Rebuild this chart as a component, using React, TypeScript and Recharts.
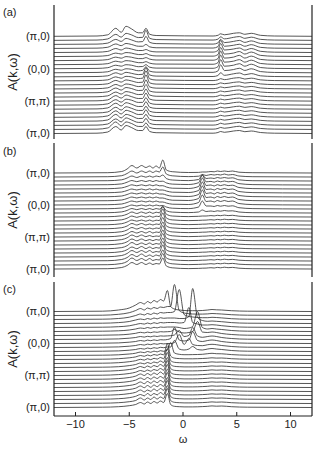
import { LineChart, Line, XAxis, YAxis, Label } from "recharts";

const FONT = '"Liberation Sans", Arial, Helvetica, sans-serif';
const INK = "#2b2b2b";

// ω grid for each panel (vertices of every curve)
const omegaA = [-12, -8, -7, -6.25, -5.75, -5.3, -4.8, -4.15, -3.75, -3.45, -3.1, -2.5, 2.8, 3.25, 3.5, 3.85, 4.7, 5.25, 5.75, 6.35, 7.2, 8.5, 12];
const omegaB = [-12, -7, -5.7, -5.2, -4.75, -4.3, -3.85, -3.45, -3.1, -2.8, -2.5, -2.2, -1.88, -1.55, -1, 0.5, 1.45, 1.8, 2.15, 2.6, 2.9, 3.2, 3.5, 3.85, 4.2, 4.6, 5.2, 6.5, 12];
const omegaC = [-12, -7.5, -6, -5, -4.4, -3.95, -3.6, -3.3, -3.0, -2.7, -2.4, -2.1, -1.8, -1.45, -1.15, -0.8, -0.35, 0.1, 0.55, 0.9, 1.35, 1.8, 2.3, 2.7, 3.1, 3.6, 4.5, 6, 12];

// A(k,ω) per k point, bottom (π,0) first, top (π,0) last
const spectraA = [
  [0, .3, 1.5, 7, 3.5, 8, 6, 3, 3, 7, 2, .8, .3, 1, 2, 1.2, 2.5, 3, 1.8, 2.5, 1, .3, 0],
  [0, .3, 1.5, 7.5, 3.5, 7.5, 6, 3, 3, 6.5, 2, .8, .3, 1, 2, 1.2, 2.5, 3.2, 1.8, 2.6, 1, .3, 0],
  [0, .3, 1.4, 6.5, 3.5, 7.5, 5.5, 3, 3, 7, 2, .8, .3, 1, 2.2, 1.2, 2.4, 3, 1.8, 2.5, 1, .3, 0],
  [0, .3, 1.4, 7, 3.4, 7, 5.5, 2.8, 3, 7, 2, .8, .3, 1, 2, 1.2, 2.6, 3.1, 1.8, 2.4, 1, .3, 0],
  [0, .3, 1.4, 6.5, 3.3, 7, 5.5, 2.8, 3, 7.5, 2, .8, .3, 1, 2, 1.2, 2.5, 3, 1.8, 2.5, 1, .3, 0],
  [0, .3, 1.3, 6, 3.2, 6.5, 5, 2.8, 2.8, 7, 2, .8, .3, 1, 2.1, 1.2, 2.5, 3, 1.8, 2.5, 1, .3, 0],
  [0, .3, 1.3, 6, 3.2, 6.5, 5, 2.7, 2.8, 7.5, 2, .8, .3, 1, 2, 1.2, 2.4, 3, 1.8, 2.6, 1, .3, 0],
  [0, .3, 1.3, 5.5, 3, 6, 5, 2.7, 2.8, 7.5, 2, .8, .3, 1, 2, 1.2, 2.5, 3, 1.8, 2.5, 1, .3, 0],
  [0, .3, 1.2, 5.5, 3, 6, 4.5, 2.6, 2.7, 8, 2, .8, .3, 1, 2, 1.2, 2.5, 3, 1.8, 2.5, 1, .3, 0],
  [0, .3, 1.2, 5, 3, 5.5, 4.5, 2.5, 2.7, 8, 2, .8, .3, 1, 2, 1.2, 2.5, 3, 1.8, 2.5, 1, .3, 0],
  [0, .3, 1.2, 5, 2.9, 5.5, 4.5, 2.5, 2.7, 8.5, 2, .8, .3, 1, 2, 1.2, 2.5, 3, 1.8, 2.5, 1, .3, 0],
  [0, .3, 1.1, 4.5, 2.8, 5, 4.2, 2.4, 2.7, 9, 2, .8, .3, 1, 2, 1.2, 2.5, 3, 1.8, 2.5, 1, .3, 0],
  [0, .3, 1.1, 4.5, 2.8, 5, 4, 2.4, 2.7, 10, 2, .8, .3, 1, 2, 1.2, 2.5, 3, 1.8, 2.5, 1, .3, 0],
  [0, .3, 1, 4, 2.6, 4.5, 4, 2.3, 2.7, 10, 2, .8, .3, 1, 2.2, 1.2, 2.7, 3.2, 1.8, 2.7, 1, .3, 0],
  [0, .3, 1, 4, 2.5, 4.5, 3.5, 2.2, 2.5, 9, 1.8, .7, .3, 1.3, 4, 1.5, 3, 3.8, 2, 3.2, 1, .3, 0],
  [0, .3, 1, 3.5, 2.5, 4, 3.5, 2, 2.4, 6, 1.6, .6, .4, 1.8, 8, 2.2, 3.2, 4.5, 2.3, 4, 1.2, .3, 0],
  [0, .3, 1, 3.5, 2.5, 4, 3.5, 2, 2.2, 4, 1.5, .6, .4, 2, 9, 2.5, 3.5, 5, 2.5, 4.5, 1.2, .3, 0],
  [0, .3, 1, 3.5, 2.5, 4, 3.5, 2, 2, 3, 1.5, .6, .4, 2, 9.5, 2.5, 3.5, 5, 2.5, 4.5, 1.2, .3, 0],
  [0, .3, 1, 3.5, 2.4, 4, 3.4, 2, 2, 3, 1.5, .6, .4, 2, 9.5, 2.5, 3.5, 5.2, 2.5, 4.5, 1.2, .3, 0],
  [0, .3, 1, 3.5, 2.5, 4, 3.5, 2, 2, 3, 1.5, .6, .4, 2, 9, 2.5, 3.5, 5, 2.5, 4.5, 1.2, .3, 0],
  [0, .3, 1.1, 4, 2.5, 4.5, 3.5, 2, 2, 3, 1.5, .6, .4, 2, 9, 2.5, 3.5, 4.5, 2.3, 4, 1.2, .3, 0],
  [0, .3, 1.2, 4.5, 2.8, 5, 4, 2.2, 2.2, 4, 1.6, .7, .4, 1.8, 8, 2.2, 3.2, 4.2, 2.2, 3.8, 1.1, .3, 0],
  [0, .3, 1.3, 5, 3, 6, 4.5, 2.5, 2.8, 8, 2, .8, .3, 1.5, 5, 1.8, 3, 4, 2, 3.5, 1, .3, 0],
  [0, .3, 1.4, 6, 3.2, 7, 5.5, 2.8, 3, 10, 2, .8, .3, 1.2, 3.5, 1.5, 3, 3.8, 2, 3.2, 1, .3, 0],
  [0, .3, 1.5, 8, 4, 10, 7.5, 3.5, 3.5, 8, 2, .8, .3, 1, 2.5, 1.5, 3, 3.5, 2, 3, 1, .3, 0],
];

const spectraB = [
  [0, .3, 1.5, 3.5, 6.5, 4.5, 6.5, 4.5, 6, 4.5, 5.5, 5, 11, 3, 1.2, .4, .6, .8, .9, 1.3, 1, 1.6, 1.2, 1.8, 1.3, 1.6, .8, .3, 0],
  [0, .3, 1.5, 3.5, 7, 4.5, 6.5, 4.5, 6.5, 4.5, 5.5, 5, 11.5, 3, 1.2, .4, .6, .8, .9, 1.3, 1, 1.6, 1.2, 1.8, 1.3, 1.6, .8, .3, 0],
  [0, .3, 1.5, 3.4, 6.5, 4.4, 7, 4.5, 6, 4.5, 6, 5, 11, 3, 1.2, .4, .6, .8, .9, 1.3, 1, 1.6, 1.2, 1.8, 1.3, 1.6, .8, .3, 0],
  [0, .3, 1.5, 3.5, 6.5, 4.5, 6.5, 4.6, 6.5, 4.5, 5.5, 5, 12, 3, 1.2, .4, .6, .8, .9, 1.3, 1, 1.6, 1.2, 1.8, 1.3, 1.6, .8, .3, 0],
  [0, .3, 1.4, 3.3, 6, 4.3, 6.5, 4.4, 6, 4.4, 5.5, 4.8, 11.5, 3, 1.2, .4, .6, .8, .9, 1.3, 1, 1.6, 1.2, 1.8, 1.3, 1.6, .8, .3, 0],
  [0, .3, 1.4, 3.3, 6.5, 4.3, 6, 4.4, 6, 4.4, 5.5, 4.8, 11, 3, 1.2, .4, .6, .8, .9, 1.3, 1, 1.6, 1.2, 1.8, 1.3, 1.6, .8, .3, 0],
  [0, .3, 1.4, 3.2, 6, 4.2, 6, 4.3, 5.5, 4.3, 5.5, 4.8, 11.5, 3, 1.2, .4, .6, .8, .9, 1.3, 1, 1.6, 1.2, 1.8, 1.3, 1.6, .8, .3, 0],
  [0, .3, 1.4, 3.2, 6, 4.2, 6, 4.3, 5.5, 4.3, 5, 4.6, 11, 3, 1.2, .4, .6, .8, .9, 1.3, 1, 1.6, 1.2, 1.8, 1.3, 1.6, .8, .3, 0],
  [0, .3, 1.3, 3, 5.5, 4, 5.5, 4, 5.5, 4, 5, 4.5, 11.5, 3, 1.2, .4, .6, .8, .9, 1.3, 1, 1.6, 1.2, 1.8, 1.3, 1.6, .8, .3, 0],
  [0, .3, 1.3, 3, 5.5, 4, 5.5, 4, 5, 4, 5, 4.5, 11, 3, 1.1, .4, .6, .8, .9, 1.3, 1, 1.6, 1.2, 1.8, 1.3, 1.6, .8, .3, 0],
  [0, .3, 1.3, 3, 5.5, 4, 5.5, 4, 5, 4, 5, 4.5, 11.5, 3, 1.1, .4, .6, .8, .9, 1.3, 1, 1.6, 1.2, 1.8, 1.3, 1.6, .8, .3, 0],
  [0, .3, 1.3, 3, 5, 3.8, 5, 3.8, 5, 3.8, 4.8, 4.4, 12, 3, 1.1, .4, .6, .8, .9, 1.3, 1, 1.6, 1.2, 1.8, 1.3, 1.6, .8, .3, 0],
  [0, .3, 1.2, 2.8, 5, 3.6, 5, 3.8, 5, 3.8, 4.8, 4.4, 12, 3, 1.1, .4, .6, .8, .9, 1.3, 1, 1.6, 1.2, 1.8, 1.3, 1.6, .8, .3, 0],
  [0, .3, 1.2, 2.8, 5, 3.5, 5, 3.6, 5, 3.6, 4.8, 4.2, 11, 2.8, 1, .4, .7, 1, 1, 1.4, 1.1, 1.7, 1.3, 1.9, 1.4, 1.7, .8, .3, 0],
  [0, .3, 1.1, 2.6, 4.5, 3.3, 4.5, 3.4, 4.5, 3.4, 4.5, 3.8, 6, 2.3, .9, .4, 1, 3, 1.5, 2, 1.5, 2.2, 1.8, 2.5, 2, 2.2, 1, .3, 0],
  [0, .3, 1, 2.5, 4, 3, 4, 3, 4, 3, 4, 3.2, 3.5, 2, .8, .4, 2, 8, 3, 3, 2.5, 3.5, 2.8, 3.5, 2.8, 3.2, 1.3, .4, 0],
  [0, .3, 1, 2.5, 4, 3, 4, 3, 4, 3, 4, 3, 3, 2, .8, .5, 2.5, 10, 3.5, 4, 3, 4.5, 3.5, 4.5, 3.5, 4, 1.5, .4, 0],
  [0, .3, 1, 2.5, 4, 3, 4, 3, 4, 3, 4, 3, 3, 2, .8, .5, 2.5, 11, 3.5, 4, 3, 4.5, 3.5, 4.5, 3.5, 4, 1.5, .4, 0],
  [0, .3, 1, 2.5, 4, 3, 4.2, 3, 4, 3, 4, 3, 3, 2, .8, .5, 2.5, 11, 3.5, 4.2, 3, 4.5, 3.5, 4.6, 3.5, 4, 1.5, .4, 0],
  [0, .3, 1, 2.5, 4, 3, 4, 3, 4.2, 3, 4, 3, 3, 2, .8, .5, 2.5, 11, 3.5, 4, 3, 4.5, 3.5, 4.5, 3.5, 4, 1.5, .4, 0],
  [0, .3, 1.1, 2.6, 4.2, 3.2, 4.2, 3.2, 4.2, 3.2, 4.2, 3.2, 3.3, 2, .8, .5, 2.5, 11, 3.5, 4, 3, 4.3, 3.4, 4.3, 3.4, 3.8, 1.5, .4, 0],
  [0, .3, 1.1, 2.8, 4.5, 3.3, 4.5, 3.4, 4.5, 3.4, 4.5, 3.6, 3.8, 2.1, .9, .5, 2.3, 10, 3.2, 3.6, 2.8, 4, 3.2, 4, 3.2, 3.6, 1.4, .4, 0],
  [0, .3, 1.2, 3, 5, 3.5, 5, 3.8, 5, 3.8, 5, 4.3, 6, 2.5, 1, .4, 1.5, 6, 2.5, 3, 2.5, 3.5, 2.8, 3.5, 2.8, 3.2, 1.2, .3, 0],
  [0, .3, 1.3, 3.5, 6, 4, 6, 4.5, 6, 4.5, 6, 5, 10, 3, 1.2, .4, .8, 2.5, 1.5, 2.5, 2, 2.5, 2, 3, 2, 2.5, 1, .3, 0],
  [0, .3, 1.5, 4, 7.5, 5, 7.5, 5.5, 7, 5, 7, 5, 13, 3, 1.3, .5, .6, 1, 1, 1.5, 1.2, 2, 1.5, 2, 1.5, 2, .8, .3, 0],
];

const spectraC = [
  [0, .3, .8, 1.8, 3, 5, 3.5, 5.5, 4, 6, 4.5, 6.5, 5, 14, 3, 1.2, .8, .6, .6, .6, .7, .9, 1.2, 1.6, 1.3, 1.5, .8, .3, 0],
  [0, .3, .8, 1.8, 3, 5.5, 3.5, 5.5, 4, 6.5, 4.5, 6.5, 5, 15, 3, 1.2, .8, .6, .6, .6, .7, .9, 1.2, 1.6, 1.3, 1.5, .8, .3, 0],
  [0, .3, .8, 1.8, 3.2, 5, 3.6, 6, 4, 6, 4.6, 7, 5, 14, 3, 1.2, .8, .6, .6, .6, .7, .9, 1.2, 1.6, 1.3, 1.5, .8, .3, 0],
  [0, .3, .8, 1.9, 3.2, 5.5, 3.6, 5.5, 4.2, 6.5, 4.6, 7, 5.2, 15, 3, 1.2, .8, .6, .6, .6, .7, .9, 1.2, 1.6, 1.3, 1.5, .8, .3, 0],
  [0, .3, .9, 2, 3.3, 5.5, 3.8, 6, 4.2, 6.5, 4.8, 7, 5.2, 14, 3, 1.2, .8, .6, .6, .6, .7, .9, 1.2, 1.6, 1.3, 1.5, .8, .3, 0],
  [0, .3, .9, 2, 3.3, 5.5, 3.8, 6, 4.3, 6.5, 4.8, 7, 5.3, 15, 3, 1.2, .8, .6, .6, .6, .7, .9, 1.2, 1.6, 1.3, 1.5, .8, .3, 0],
  [0, .3, .9, 2, 3.4, 5.5, 4, 6, 4.4, 6.5, 5, 7, 5.3, 14.5, 3, 1.2, .8, .6, .6, .6, .7, .9, 1.2, 1.6, 1.3, 1.5, .8, .3, 0],
  [0, .3, .9, 2, 3.4, 5.5, 4, 6, 4.4, 6.5, 5, 7.5, 5.4, 15, 3, 1.2, .8, .6, .6, .6, .7, .9, 1.2, 1.6, 1.3, 1.5, .8, .3, 0],
  [0, .3, .9, 2, 3.3, 5, 4, 5.5, 4.3, 6, 5, 7, 5.3, 15, 3, 1.2, .8, .6, .6, .6, .7, .9, 1.2, 1.6, 1.3, 1.5, .8, .3, 0],
  [0, .3, .9, 2, 3.2, 5, 3.8, 5.5, 4.2, 6, 4.8, 7, 5.2, 14, 3, 1.2, .8, .6, .6, .6, .7, .9, 1.2, 1.6, 1.3, 1.5, .8, .3, 0],
  [0, .3, .8, 1.9, 3, 4.5, 3.6, 5, 4, 5.5, 4.6, 6.5, 5, 15, 3, 1.2, .8, .6, .6, .6, .7, .9, 1.2, 1.6, 1.3, 1.5, .8, .3, 0],
  [0, .3, .8, 1.8, 2.8, 4.2, 3.4, 4.8, 3.8, 5.2, 4.4, 6, 4.8, 15, 3, 1.2, .8, .6, .6, .6, .7, .9, 1.2, 1.6, 1.3, 1.5, .8, .3, 0],
  [0, .3, .8, 1.7, 2.6, 4, 3.2, 4.5, 3.6, 5, 4.2, 5.5, 4.6, 16, 3.5, 1.4, .9, .7, .7, .7, .8, 1, 1.3, 1.7, 1.4, 1.5, .8, .3, 0],
  [0, .3, .7, 1.5, 2.3, 3.5, 2.8, 4, 3.2, 4.4, 3.6, 4.8, 4.2, 5.5, 13, 2.5, 1.2, .8, .8, .9, 1, 1.2, 1.8, 2.2, 1.8, 1.7, .9, .3, 0],
  [0, .3, .6, 1.3, 2, 3, 2.4, 3.5, 2.8, 3.8, 3.2, 4.2, 3.8, 4.5, 4.5, 11, 2.5, 1.5, 2.5, 5, 2, 1.5, 2.5, 3, 2.5, 2, 1, .3, 0],
  [0, .3, .6, 1.3, 2, 3, 2.4, 3.4, 2.8, 3.8, 3.2, 4, 3.6, 4, 4, 5, 13, 3, 9, 3, 2, 1.8, 2.8, 3.2, 2.8, 2, 1, .3, 0],
  [0, .3, .6, 1.3, 2, 3, 2.4, 3.4, 2.8, 3.6, 3, 3.8, 3.6, 4, 5, 16, 3.5, 2.5, 3.5, 12, 3, 2, 3, 3.5, 3, 2, 1, .3, 0],
  [0, .3, .6, 1.3, 2, 3, 2.4, 3.2, 2.7, 3.5, 3, 3.6, 3.4, 3.6, 3.8, 4.5, 9, 3, 4, 12, 3.5, 2.2, 3, 3.5, 3, 2, 1, .3, 0],
  [0, .3, .6, 1.3, 2.2, 3.2, 2.6, 3.4, 2.8, 3.6, 3.2, 3.8, 3.6, 3.8, 4, 6, 3.5, 2.5, 3, 4, 14, 3.5, 3, 3.5, 3, 2, 1, .3, 0],
  [0, .3, .7, 1.5, 2.5, 3.5, 3, 4, 3.2, 4.2, 3.6, 4.5, 4.2, 4.5, 4.5, 4.5, 4, 3, 3.5, 5, 20, 4, 2.5, 3, 2.5, 2, 1, .3, 0],
  [0, .3, .8, 1.7, 3, 4, 3.4, 4.5, 3.6, 4.8, 4, 5, 4.6, 5, 5, 5, 4.5, 5, 20, 5, 3.5, 2.5, 2.5, 2.8, 2.5, 1.8, .9, .3, 0],
  [0, .3, .9, 2, 3.5, 4.5, 3.8, 5, 4.2, 5.5, 4.6, 5.8, 5.2, 5.5, 5.5, 5.5, 5, 5, 7, 35, 6, 3, 2.2, 2.5, 2.2, 1.8, .9, .3, 0],
  [0, .3, 1, 2.3, 4, 5.5, 4.5, 6, 5, 6.5, 5.5, 7, 6.5, 7, 7, 8, 30, 5, 3, 2.5, 2, 1.8, 1.8, 2.2, 2, 1.6, .8, .3, 0],
  [0, .3, 1.2, 2.8, 5, 7, 5.5, 7.5, 6.5, 8, 7, 8.5, 8, 9, 9, 31, 5, 2.5, 1.8, 1.5, 1.4, 1.4, 1.6, 2, 1.8, 1.5, .8, .3, 0],
  [0, .3, 1.5, 3.5, 6.5, 9, 7.5, 10, 8.5, 11, 9.5, 12, 10.5, 21, 5, 2.5, 1.5, 1, .8, .8, .8, 1, 1.5, 2, 1.7, 1.5, .8, .3, 0],
];

const kRows = [0, 8, 16, 24];
const kLabels = ["(π,0)", "(π,π)", "(0,0)", "(π,0)"];
const omegaTicks = [-10, -5, 0, 5, 10];

// stack the curves: each k point is lifted by a constant step
function toTable(omega: number[], spectra: number[][], step: number) {
  return omega.map((w, j) => {
    const row: Record<string, number> = { w };
    spectra.forEach((s, i) => {
      row[`k${i}`] = i * step + s[j];
    });
    return row;
  });
}

type PanelProps = {
  omega: number[];
  spectra: number[][];
  step: number;
  yMin: number;
  height: number;
  marginTop: number;
  marginBottom: number;
  withTicks: boolean;
};

function Panel({ omega, spectra, step, yMin, height, marginTop, marginBottom, withTicks }: PanelProps) {
  const data = toTable(omega, spectra, step);
  const yMax = yMin + 134;
  const yTicks = kRows.map((r) => r * step);
  const frame = { stroke: "#222", strokeWidth: 1.2 };
  return (
    <LineChart width={316} height={height} data={data} margin={{ top: marginTop, right: 0, bottom: marginBottom, left: 0 }}>
      <XAxis
        xAxisId="b"
        dataKey="w"
        type="number"
        domain={[-12, 12]}
        allowDataOverflow
        ticks={omegaTicks}
        interval={0}
        height={withTicks ? 28 : 0}
        axisLine={frame}
        tickLine={withTicks ? { stroke: "#222" } : false}
        tickSize={-4}
        tickMargin={8}
        tick={withTicks ? { fontSize: 11, fill: "#222", fontFamily: FONT } : false}
        tickFormatter={(v: number) => (v < 0 ? `−${-v}` : `${v}`)}
      >
        {withTicks && (
          <Label value="ω" position="insideBottom" offset={1} style={{ fontSize: 11, fill: "#222", fontFamily: FONT }} />
        )}
      </XAxis>
      <XAxis
        xAxisId="t"
        orientation="top"
        type="number"
        domain={[-12, 12]}
        allowDataOverflow
        ticks={omegaTicks}
        interval={0}
        height={0}
        axisLine={frame}
        tickLine={withTicks ? { stroke: "#222" } : false}
        tickSize={-4}
        tickFormatter={() => ""}
      />
      <YAxis
        yAxisId="l"
        type="number"
        domain={[yMin, yMax]}
        allowDataOverflow
        ticks={yTicks}
        interval={0}
        width={54}
        axisLine={frame}
        tickLine={false}
        tickSize={0}
        tickMargin={4}
        tick={{ fontSize: 11, fill: "#222", fontFamily: FONT }}
        tickFormatter={(v: number) => {
          const i = yTicks.findIndex((t) => Math.abs(t - v) < 1e-6);
          return i >= 0 ? kLabels[i] : "";
        }}
      >
        <Label
          value="A(k,ω)"
          angle={-90}
          position="insideLeft"
          offset={12}
          textAnchor="middle"
          style={{ fontSize: 13, fill: "#222", fontFamily: FONT }}
        />
      </YAxis>
      <YAxis
        yAxisId="r"
        orientation="right"
        type="number"
        domain={[yMin, yMax]}
        allowDataOverflow
        width={4}
        axisLine={frame}
        tickLine={false}
        tick={false}
      />
      {spectra.map((_, i) => (
        <Line
          key={i}
          xAxisId="b"
          yAxisId="l"
          dataKey={`k${i}`}
          type="monotone"
          stroke={INK}
          strokeWidth={0.8}
          dot={false}
          activeDot={false}
          isAnimationActive={false}
        />
      ))}
    </LineChart>
  );
}

const letterStyle: React.CSSProperties = {
  position: "absolute",
  left: 3,
  fontSize: 11,
  fontFamily: FONT,
  color: "#222",
  lineHeight: "13px",
};

export default function App() {
  return (
    <div style={{ position: "absolute", left: 0, top: 0, width: 316, height: 451, background: "#fff", overflow: "hidden" }}>
      <div style={{ position: "absolute", left: 0, top: 0 }}>
        <Panel omega={omegaA} spectra={spectraA} step={4.05} yMin={-5.5} height={140} marginTop={5} marginBottom={1} withTicks={false} />
      </div>
      <div style={{ position: "absolute", left: 0, top: 140 }}>
        <Panel omega={omegaB} spectra={spectraB} step={4} yMin={-8} height={140} marginTop={3} marginBottom={3} withTicks={false} />
      </div>
      <div style={{ position: "absolute", left: 0, top: 280 }}>
        <Panel omega={omegaC} spectra={spectraC} step={4} yMin={-8.5} height={171} marginTop={2} marginBottom={7} withTicks />
      </div>
      <div style={{ ...letterStyle, top: 6 }}>(a)</div>
      <div style={{ ...letterStyle, top: 145 }}>(b)</div>
      <div style={{ ...letterStyle, top: 283 }}>(c)</div>
    </div>
  );
}
